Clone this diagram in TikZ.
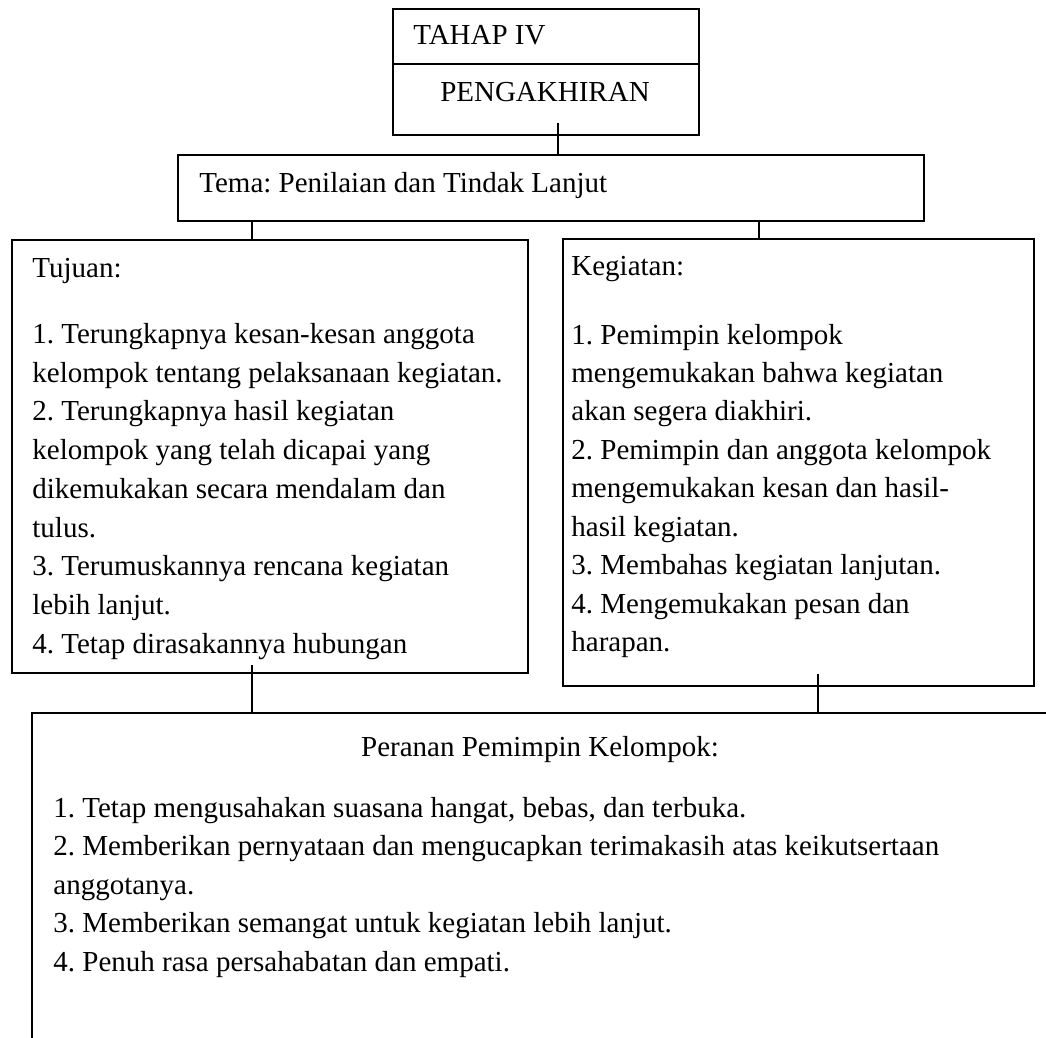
\documentclass[tikz,border=0pt]{standalone}
\usepackage{fontspec}
\setmainfont{Liberation Serif}
\usetikzlibrary{fit}
\begin{document}
\frenchspacing
\begin{tikzpicture}[x=0.5pt,y=-0.5pt,
  box/.style={draw, line width=1pt, inner sep=0pt, rectangle},
  txt/.style={inner sep=0pt, anchor=base west, align=left, font=\fontsize{14.5pt}{19.3pt}\selectfont},
  link/.style={draw, line width=1pt}]
\useasboundingbox (0,0) rectangle (1046,1038);
% boxes
\node[box, fit={(393,9) (699,135)}] (tahap) {};
\coordinate (dv) at (0,64);
\draw[line width=1pt] (tahap.west |- dv) -- (tahap.east |- dv);
\node[box, fit={(178,155) (924,221)}] (tema) {};
\node[box, fit={(12,240) (528,673)}] (tujuan) {};
\node[box, fit={(563,239) (1034,686)}] (kegiatan) {};
\node[fit={(32,713) (1046,1038)}, inner sep=0pt] (peran) {};
\draw[line width=1pt] (peran.north east) -- (peran.north west) -- (peran.south west);
% connectors
\coordinate (c1) at (558,123);
\draw[link] (c1) -- (c1 |- tema.north);
\coordinate (x1) at (252,0);
\coordinate (x2) at (759,0);
\draw[link] (tema.south -| x1) -- (tujuan.north -| x1);
\draw[link] (tema.south -| x2) -- (kegiatan.north -| x2);
\coordinate (c3) at (252,665);
\coordinate (c4) at (818,674);
\draw[link] (c3) -- (c3 |- peran.north);
\draw[link] (c4) -- (c4 |- peran.north);
% texts (multi-line nodes are placed by the baseline of their last line)
\node[txt] (t1) at (413,45) {TAHAP IV};
\node[txt, anchor=base] (t2) at (545,102) {PENGAKHIRAN};
\node[txt] (temat) at (199,193) {Tema: Penilaian dan Tindak Lanjut};
\node[txt] (tujh) at (32,278) {Tujuan:};
\node[txt, font=\fontsize{14.5pt}{19.375pt}\selectfont] (tujl) at (32,653.3) {1. Terungkapnya kesan-kesan anggota\\
kelompok tentang pelaksanaan kegiatan.\\
2. Terungkapnya hasil kegiatan\\
kelompok yang telah dicapai yang\\
dikemukakan secara mendalam dan\\
tulus.\\
3. Terumuskannya rencana kegiatan\\
lebih lanjut.\\
4. Tetap dirasakannya hubungan};
\node[txt] (kegh) at (571,276) {Kegiatan:};
\node[txt, font=\fontsize{14.5pt}{19.22pt}\selectfont] (kegl) at (571,651.6) {1. Pemimpin kelompok\\
mengemukakan bahwa kegiatan\\
akan segera diakhiri.\\
2. Pemimpin dan anggota kelompok\\
mengemukakan kesan dan hasil-\\
hasil kegiatan.\\
3. Membahas kegiatan lanjutan.\\
4. Mengemukakan pesan dan\\
harapan.};
\node[txt, anchor=base] (perh) at (540,756) {Peranan Pemimpin Kelompok:};
\node[txt] (perl) at (53,971.4) {1. Tetap mengusahakan suasana hangat, bebas, dan terbuka.\\
2. Memberikan pernyataan dan mengucapkan terimakasih atas keikutsertaan\\
anggotanya.\\
3. Memberikan semangat untuk kegiatan lebih lanjut.\\
4. Penuh rasa persahabatan dan empati.};
\end{tikzpicture}
\end{document}
